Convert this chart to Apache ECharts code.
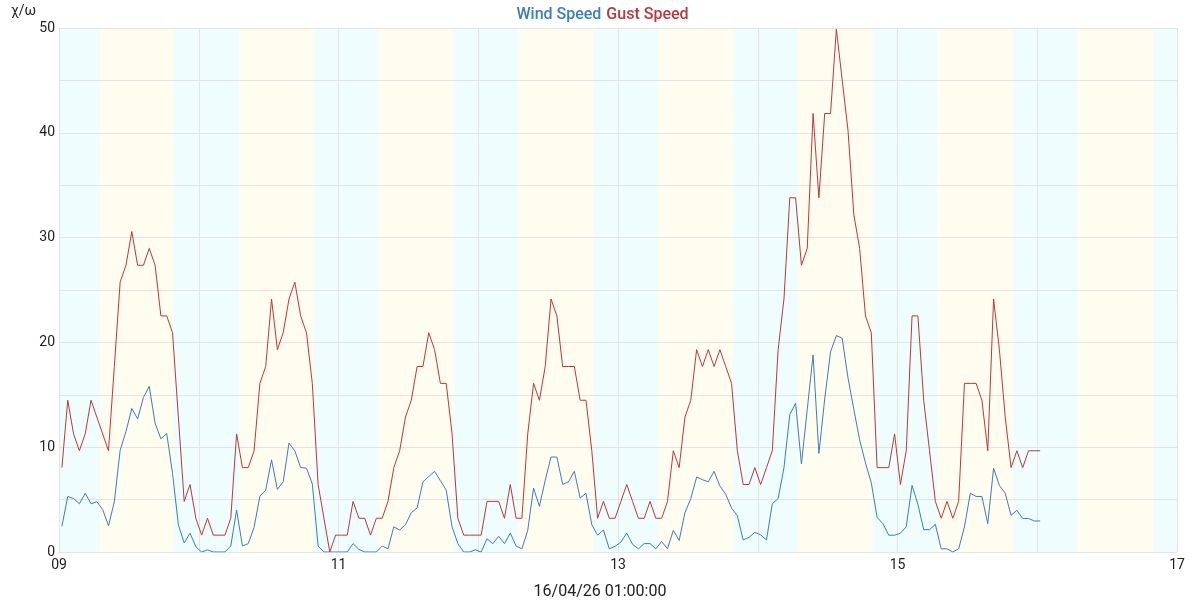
<!DOCTYPE html>
<html>
<head>
<meta charset="utf-8">
<script src="https://cdn.jsdelivr.net/npm/echarts@6/dist/echarts.min.js"></script>
<style>
html,body{margin:0;padding:0;background:#fff;}
#chart{width:1200px;height:600px;}
</style>
</head>
<body>
<div id="chart"></div>
<script>
// ---- data ----
const seriesNames = ['Wind Speed', 'Gust Speed'];
const xAxisTitle = '16/04/26 01:00:00';
const yAxisTitle = 'χ/ω';
const firstReading = Date.UTC(2026, 3, 9, 0, 30); // hourly readings
const readingStepHours = 1;
const axisStart = Date.UTC(2026, 3, 9);
const axisEnd = Date.UTC(2026, 3, 17);

const windSpeed = [
  2.45, 5.3, 5.1, 4.6, 5.6, 4.6, 4.8, 4.05, 2.5, 4.8,
  9.7, 11.5, 13.7, 12.7, 14.75, 15.8, 12.3, 10.8, 11.3, 7.5,
  2.6, 0.86, 1.8, 0.5, 0, 0.2, 0, 0, 0, 0.57,
  4.0, 0.57, 0.8, 2.35, 5.33, 5.9, 8.8, 5.97, 6.7, 10.4,
  9.65, 8.06, 8.0, 6.5, 0.57, 0, 0, 0, 0, 0,
  0.8, 0.25, 0, 0, 0, 0.57, 0.3, 2.4, 2.1, 2.6,
  3.75, 4.2, 6.7, 7.2, 7.7, 6.8, 5.9, 2.4, 0.8, 0,
  0, 0.2, 0, 1.27, 0.8, 1.5, 0.8, 1.8, 0.57, 0.3,
  2.07, 6.1, 4.35, 6.84, 9.06, 9.06, 6.45, 6.7, 7.7, 5.15,
  5.6, 2.6, 1.6, 2.1, 0.3, 0.54, 0.95, 1.8, 0.73, 0.3,
  0.8, 0.8, 0.3, 1.0, 0.3, 2.07, 1.1, 3.75, 5.1, 7.15,
  6.9, 6.7, 7.7, 6.3, 5.5, 4.2, 3.45, 1.15, 1.4, 1.87,
  1.64, 1.15, 4.6, 5.1, 8.04, 13.1, 14.2, 8.4, 13.6, 18.8,
  9.4, 14.6, 19.1, 20.65, 20.4, 16.6, 13.6, 10.7, 8.5, 6.6,
  3.3, 2.7, 1.6, 1.6, 1.8, 2.4, 6.35, 4.55, 2.13, 2.13,
  2.64, 0.3, 0.3, 0, 0.3, 2.4, 5.6, 5.3, 5.3, 2.7,
  8.0, 6.35, 5.6, 3.5, 3.97, 3.2, 3.2, 2.96, 2.96
];

const gustSpeed = [
  8.05, 14.48, 11.27, 9.66, 11.27, 14.48, 12.87, 11.27, 9.66, 17.7,
  25.75, 27.36, 30.58, 27.36, 27.36, 28.97, 27.36, 22.53, 22.53, 20.92,
  12.87, 4.83, 6.44, 3.22, 1.61, 3.22, 1.61, 1.61, 1.61, 3.22,
  11.27, 8.05, 8.05, 9.66, 16.09, 17.7, 24.14, 19.31, 20.92, 24.14,
  25.75, 22.53, 20.92, 16.09, 6.44, 3.22, 0, 1.61, 1.61, 1.61,
  4.83, 3.22, 3.22, 1.61, 3.22, 3.22, 4.83, 8.05, 9.66, 12.87,
  14.48, 17.7, 17.7, 20.92, 19.31, 16.09, 16.09, 11.27, 3.22, 1.61,
  1.61, 1.61, 1.61, 4.83, 4.83, 4.83, 3.22, 6.44, 3.22, 3.22,
  11.27, 16.09, 14.48, 17.7, 24.14, 22.53, 17.7, 17.7, 17.7, 14.48,
  14.48, 9.66, 3.22, 4.83, 3.22, 3.22, 4.83, 6.44, 4.83, 3.22,
  3.22, 4.83, 3.22, 3.22, 4.83, 9.66, 8.05, 12.87, 14.48, 19.31,
  17.7, 19.31, 17.7, 19.31, 17.7, 16.09, 9.66, 6.44, 6.44, 8.05,
  6.44, 8.05, 9.66, 19.31, 24.14, 33.8, 33.8, 27.36, 28.97, 41.84,
  33.8, 41.84, 41.84, 49.89, 45.06, 40.23, 32.19, 28.97, 22.53, 20.92,
  8.05, 8.05, 8.05, 11.27, 6.44, 9.66, 22.53, 22.53, 14.48, 9.66,
  4.83, 3.22, 4.83, 3.22, 4.83, 16.09, 16.09, 16.09, 14.48, 9.66,
  24.14, 19.31, 12.87, 8.05, 9.66, 8.05, 9.66, 9.66, 9.66
];

// daylight periods (hours of day), one per axis day 09..16
const sunriseHours = [7.0, 7.0, 6.9, 6.9, 6.9, 6.9, 6.8, 6.8];
const sunsetHours  = [19.65, 19.7, 19.7, 19.75, 19.8, 19.75, 19.85, 19.9];

// ---- build ----
const HOUR = 3600000, DAY = 86400000;
const times = windSpeed.map((_, i) => firstReading + i * readingStepHours * HOUR);
const windData = windSpeed.map((v, i) => [times[i], v]);
const gustData = gustSpeed.map((v, i) => [times[i], v]);

const NIGHT = '#effdfd', DAYC = '#fefdef';
const bands = [];
let cursor = axisStart;
sunriseHours.forEach((sr, d) => {
  const dayStart = axisStart + d * DAY;
  const a = dayStart + sr * HOUR, b = dayStart + sunsetHours[d] * HOUR;
  bands.push([{xAxis: cursor, itemStyle: {color: NIGHT}}, {xAxis: a}]);
  bands.push([{xAxis: a, itemStyle: {color: DAYC}}, {xAxis: b}]);
  cursor = b;
});
bands.push([{xAxis: cursor, itemStyle: {color: NIGHT}}, {xAxis: axisEnd}]);

const BLUE = '#3b7dbd', RED = '#bb373d';
const font = 'Roboto, "Noto Sans", sans-serif';

const chart = echarts.init(document.getElementById('chart'), null, {renderer: 'canvas'});
chart.setOption({
  animation: false,
  textStyle: {fontFamily: font},
  grid: {left: 59, right: 23, top: 28, bottom: 48, containLabel: false, outerBoundsMode: 'none'},
  legend: {
    top: 2, left: 'center', icon: 'none', itemWidth: 0, itemHeight: 14, itemGap: 0,
    textStyle: {fontSize: 16, fontWeight: 500, fontFamily: font},
    data: [
      {name: seriesNames[0], textStyle: {color: BLUE}},
      {name: seriesNames[1], textStyle: {color: RED}}
    ]
  },
  xAxis: {
    type: 'value', min: axisStart, max: axisEnd, interval: DAY, z: 2,
    name: xAxisTitle, nameLocation: 'middle', nameGap: 32,
    nameTextStyle: {fontSize: 16, color: '#222', fontFamily: font, padding: [0, 36, 0, 0]},
    axisLine: {show: false}, axisTick: {show: false},
    axisLabel: {
      fontSize: 14, color: '#222', margin: 6, fontFamily: font,
      formatter: v => {
        const d = new Date(v).getUTCDate();
        const idx = Math.round((v - axisStart) / DAY);
        return idx % 2 === 0 ? String(d).padStart(2, '0') : '';
      }
    },
    splitLine: {show: true, lineStyle: {color: '#e4e4e4', width: 1}}
  },
  yAxis: {
    type: 'value', min: 0, max: 50, interval: 5, z: 2,
    name: yAxisTitle, nameLocation: 'end', nameGap: 10,
    nameTextStyle: {fontSize: 14, color: '#222', align: 'right', padding: [0, 23, 0, 0], fontFamily: font},
    axisLine: {show: false}, axisTick: {show: false},
    axisLabel: {
      fontSize: 14, color: '#222', margin: 4, fontFamily: font,
      formatter: v => (v % 10 === 0 ? String(v) : '')
    },
    splitLine: {show: true, lineStyle: {color: '#e4e4e4', width: 1}}
  },
  series: [
    {
      name: 'bands', type: 'line', data: [], z: 1, silent: true,
      markArea: {silent: true, data: bands}
    },
    {
      name: seriesNames[0], type: 'line', data: windData, z: 3,
      showSymbol: false, symbol: 'none', color: BLUE,
      lineStyle: {color: BLUE, width: 1}
    },
    {
      name: seriesNames[1], type: 'line', data: gustData, z: 3,
      showSymbol: false, symbol: 'none', color: RED,
      lineStyle: {color: RED, width: 1}
    }
  ]
});
</script>
</body>
</html>
